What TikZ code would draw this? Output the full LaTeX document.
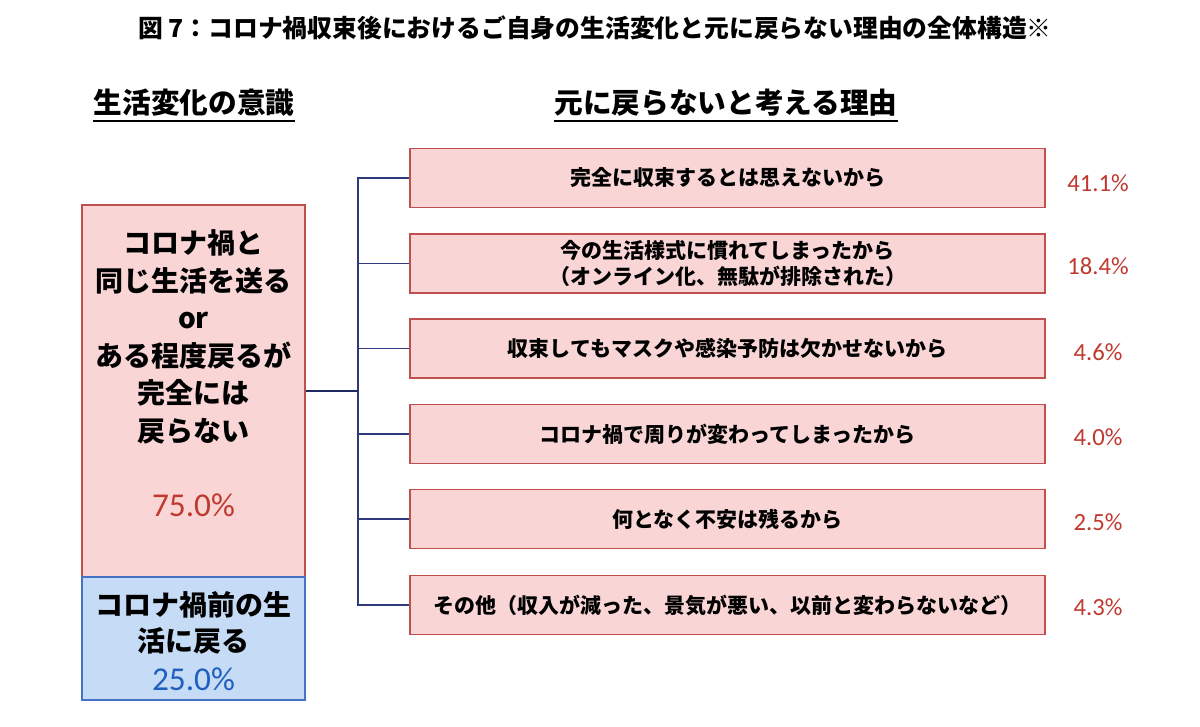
\documentclass[tikz,border=0pt]{standalone}
\usepackage{fontspec}
\setmainfont{Noto Sans CJK JP}
\newfontfamily\numfont{Carlito}
\definecolor{pinkfill}{HTML}{F9D5D6}
\definecolor{pinkline}{HTML}{C0504D}
\definecolor{bluefill}{HTML}{C6DBF5}
\definecolor{blueline}{HTML}{4472C4}
\definecolor{pctred}{HTML}{C0392F}
\definecolor{pctblue}{HTML}{1F5FBF}
\definecolor{navy}{HTML}{1F2A60}
\definecolor{branch}{HTML}{2E3A7C}
\begin{document}
\begin{tikzpicture}[x=0.75pt,y=-0.75pt,
  pinkbox/.style={draw=pinkline,fill=pinkfill,line width=0.9pt,inner sep=0pt},
  bluebox/.style={draw=blueline,fill=bluefill,line width=0.9pt,inner sep=0pt},
  reasonbox/.style={pinkbox,minimum width=476.25pt,minimum height=44.25pt,
     font=\fontsize{15.75pt}{19pt}\selectfont\bfseries,align=center},
  pct/.style={font=\numfont\fontsize{18.5pt}{20pt}\selectfont,text=pctred,inner sep=0pt},
  header/.style={font=\fontsize{21.5pt}{24pt}\selectfont\bfseries,inner sep=0pt},
  mainline/.style={draw=navy,line width=1.5pt},
  branchline/.style={draw=branch,line width=0.8pt}]
\useasboundingbox (0,0) rectangle (1200,727);
\fill[white] (0,0) rectangle (1200,727);

% title
\node[font=\fontsize{18.6pt}{20pt}\selectfont\bfseries,inner sep=0pt] (title) at (595,28)
  {図 7：コロナ禍収束後におけるご自身の生活変化と元に戻らない理由の全体構造※};

% headers
\node[header] (h1) at (194,103) {生活変化の意識};
\node[header] (h2) at (726,103) {元に戻らないと考える理由};
\draw[line width=1.5pt] ([yshift=-3pt]h1.south west) -- ([yshift=-3pt]h1.south east);
\draw[line width=1.5pt] ([yshift=-3pt]h2.south west) -- ([yshift=-3pt]h2.south east);

% left boxes
\node[pinkbox,minimum width=167.25pt,minimum height=279pt] (lbox) at (193.5,391) {};
\node[bluebox,minimum width=167.25pt,minimum height=92.25pt] (bbox) at (193.5,638.5) {};
\node[font=\fontsize{21pt}{28.1pt}\selectfont\bfseries,align=center,inner sep=0pt] (ltext) at (193.5,337)
  {コロナ禍と\\同じ生活を送る\\or\\ある程度戻るが\\完全には\\戻らない};
\node[font=\numfont\fontsize{25pt}{27pt}\selectfont,text=pctred,inner sep=0pt] (lpct) at (193.5,505) {75.0\%};
\node[font=\fontsize{21pt}{27pt}\selectfont\bfseries,align=center,inner sep=0pt] (btext) at (193.5,623)
  {コロナ禍前の生\\活に戻る};
\node[font=\numfont\fontsize{25pt}{27pt}\selectfont,text=pctblue,inner sep=0pt] (bpct) at (193.5,679) {25.0\%};

% reason boxes
\node[reasonbox] (r1) at (727.5,178) {完全に収束するとは思えないから};
\node[reasonbox] (r2) at (727.5,263.5) {今の生活様式に慣れてしまったから\\（オンライン化、無駄が排除された）};
\node[reasonbox] (r3) at (727.5,348.5) {収束してもマスクや感染予防は欠かせないから};
\node[reasonbox] (r4) at (727.5,434) {コロナ禍で周りが変わってしまったから};
\node[reasonbox] (r5) at (727.5,519) {何となく不安は残るから};
\node[reasonbox] (r6) at (727.5,605) {その他（収入が減った、景気が悪い、以前と変わらないなど）};

% percentages
\node[pct] (p1) at (1098,183) {41.1\%};
\node[pct] (p2) at (1098,266) {18.4\%};
\node[pct] (p3) at (1098,352) {4.6\%};
\node[pct] (p4) at (1098,437) {4.0\%};
\node[pct] (p5) at (1098,522) {2.5\%};
\node[pct] (p6) at (1098,607) {4.3\%};

% connectors
\coordinate (hub) at (358,391);
\draw[branchline] (hub) |- (r1.west);
\draw[branchline] (hub) |- (r2.west);
\draw[branchline] (hub) |- (r3.west);
\draw[branchline] (hub) |- (r4.west);
\draw[branchline] (hub) |- (r5.west);
\draw[branchline] (hub) |- (r6.west);
\draw[mainline] (lbox.east) -- (hub);
\end{tikzpicture}
\end{document}
